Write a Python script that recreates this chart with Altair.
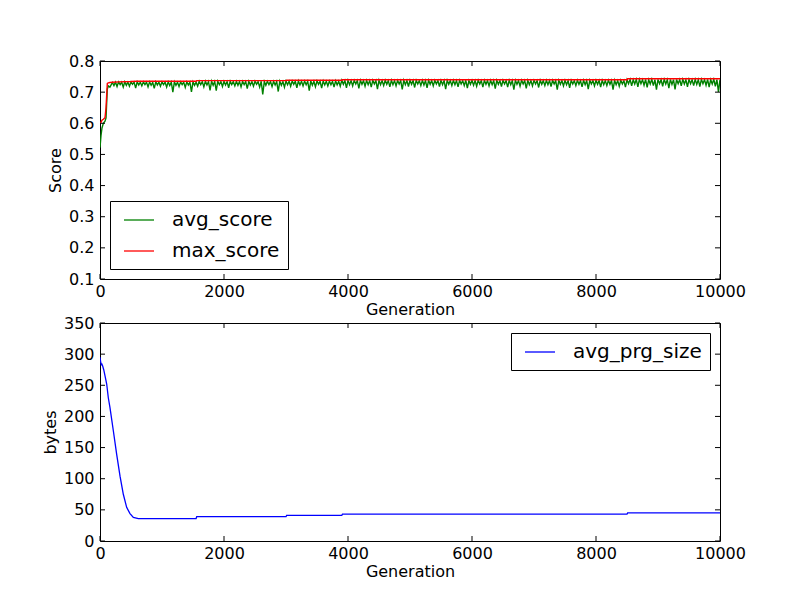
import altair as alt
import pandas as pd

# ---------------- data ----------------
early_gen = [0, 16, 32, 54, 81, 97, 118, 134, 160]
early_avg = [0.522, 0.560, 0.585, 0.600, 0.607, 0.617, 0.710, 0.720, 0.716]

# avg_score sampled every 25 generations from 200 to 10000 (one row = 500 generations)
avg_score = [
    0.731, 0.721, 0.732, 0.718, 0.733, 0.724, 0.732, 0.716, 0.733, 0.722, 0.732, 0.719, 0.733, 0.725, 0.732, 0.713, 0.733, 0.723, 0.732, 0.720,
    0.733, 0.724, 0.732, 0.717, 0.733, 0.722, 0.731, 0.712, 0.733, 0.723, 0.732, 0.719, 0.733, 0.724, 0.732, 0.716, 0.733, 0.721, 0.732, 0.700,
    0.733, 0.722, 0.732, 0.718, 0.733, 0.724, 0.732, 0.715, 0.733, 0.723, 0.732, 0.701, 0.733, 0.722, 0.732, 0.719, 0.735, 0.724, 0.734, 0.717,
    0.735, 0.723, 0.734, 0.706, 0.735, 0.722, 0.734, 0.705, 0.735, 0.724, 0.734, 0.718, 0.735, 0.723, 0.734, 0.714, 0.735, 0.724, 0.734, 0.720,
    0.735, 0.722, 0.734, 0.717, 0.735, 0.724, 0.734, 0.711, 0.735, 0.723, 0.734, 0.719, 0.735, 0.725, 0.734, 0.716, 0.735, 0.693, 0.734, 0.722,
    0.735, 0.724, 0.734, 0.718, 0.735, 0.723, 0.734, 0.702, 0.735, 0.722, 0.734, 0.716, 0.736, 0.724, 0.735, 0.719, 0.736, 0.725, 0.735, 0.714,
    0.736, 0.723, 0.735, 0.720, 0.736, 0.724, 0.735, 0.705, 0.736, 0.722, 0.735, 0.717, 0.736, 0.725, 0.735, 0.713, 0.736, 0.723, 0.735, 0.720,
    0.736, 0.724, 0.735, 0.716, 0.736, 0.723, 0.735, 0.719, 0.738, 0.725, 0.737, 0.714, 0.738, 0.724, 0.737, 0.720, 0.738, 0.726, 0.737, 0.712,
    0.738, 0.725, 0.737, 0.719, 0.738, 0.724, 0.737, 0.716, 0.738, 0.726, 0.737, 0.710, 0.738, 0.724, 0.737, 0.721, 0.738, 0.725, 0.737, 0.717,
    0.738, 0.724, 0.737, 0.720, 0.738, 0.726, 0.737, 0.709, 0.738, 0.724, 0.737, 0.718, 0.738, 0.725, 0.737, 0.715, 0.738, 0.726, 0.737, 0.721,
    0.738, 0.723, 0.737, 0.714, 0.738, 0.725, 0.737, 0.720, 0.738, 0.726, 0.737, 0.718, 0.738, 0.724, 0.737, 0.710, 0.738, 0.725, 0.737, 0.721,
    0.738, 0.724, 0.737, 0.717, 0.738, 0.726, 0.737, 0.721, 0.738, 0.713, 0.737, 0.725, 0.738, 0.722, 0.737, 0.719, 0.738, 0.726, 0.737, 0.716,
    0.738, 0.725, 0.737, 0.720, 0.738, 0.724, 0.737, 0.711, 0.738, 0.725, 0.737, 0.718, 0.738, 0.726, 0.737, 0.716, 0.738, 0.724, 0.737, 0.708,
    0.738, 0.725, 0.737, 0.719, 0.738, 0.726, 0.737, 0.712, 0.738, 0.724, 0.737, 0.720, 0.738, 0.726, 0.737, 0.715, 0.738, 0.725, 0.737, 0.721,
    0.738, 0.724, 0.737, 0.718, 0.738, 0.726, 0.737, 0.708, 0.738, 0.725, 0.737, 0.720, 0.738, 0.724, 0.737, 0.714, 0.738, 0.726, 0.737, 0.721,
    0.738, 0.725, 0.737, 0.717, 0.738, 0.724, 0.737, 0.710, 0.738, 0.726, 0.737, 0.720, 0.738, 0.725, 0.737, 0.716, 0.738, 0.724, 0.737, 0.721,
    0.738, 0.725, 0.737, 0.708, 0.738, 0.724, 0.737, 0.719, 0.738, 0.726, 0.737, 0.716, 0.740, 0.727, 0.741, 0.720, 0.740, 0.726, 0.741, 0.717,
    0.741, 0.727, 0.740, 0.722, 0.741, 0.715, 0.740, 0.726, 0.741, 0.721, 0.740, 0.708, 0.741, 0.727, 0.740, 0.719, 0.741, 0.726, 0.740, 0.713,
    0.741, 0.725, 0.740, 0.709, 0.741, 0.727, 0.740, 0.720, 0.741, 0.726, 0.740, 0.717, 0.741, 0.727, 0.740, 0.721, 0.741, 0.725, 0.740, 0.718,
    0.741, 0.727, 0.740, 0.722, 0.741, 0.716, 0.740, 0.726, 0.741, 0.719, 0.740, 0.701, 0.740,
]
avg_gen = early_gen + list(range(200, 10001, 25))
avg_all = early_avg + avg_score
assert len(avg_gen) == len(avg_all)

max_gen = [0, 16, 32, 54, 81, 97, 118, 134, 160, 200, 300, 500, 600,
           1550, 1560, 3000, 3010, 3900, 3910, 8500, 8510, 10000]
max_score = [0.600, 0.603, 0.610, 0.613, 0.618, 0.650, 0.728, 0.730, 0.731,
             0.732, 0.733, 0.734, 0.735, 0.735, 0.737, 0.737, 0.738, 0.738,
             0.740, 0.740, 0.743, 0.743]

size_gen = [0, 10, 20, 30, 43, 60, 81, 108, 134, 161, 215, 269, 323, 376,
            430, 484, 538, 618, 700, 1550, 1560, 3000, 3010, 3900, 3910,
            8500, 8510, 10000]
avg_prg_size = [295, 288, 283, 284, 281, 275, 265, 252, 230, 214, 177, 139,
                104, 75, 54, 44, 38, 36, 36, 36, 39, 39, 41, 41, 43, 43, 45, 45]

x_ticks = [0, 2000, 4000, 6000, 8000, 10000]
score_ticks = [0.1, 0.2, 0.3, 0.4, 0.5, 0.6, 0.7, 0.8]
bytes_ticks = [0, 50, 100, 150, 200, 250, 300, 350]

# ---------------- tables ----------------
df_score = pd.concat([
    pd.DataFrame({"gen": avg_gen, "score": avg_all, "series": "avg_score", "o": 0}),
    pd.DataFrame({"gen": max_gen, "score": max_score, "series": "max_score", "o": 1}),
], ignore_index=True)
df_size = pd.DataFrame({"gen": size_gen, "bytes": avg_prg_size, "series": "avg_prg_size"})
df_xt = pd.DataFrame({"gen": x_ticks})
df_st = pd.DataFrame({"score": score_ticks})
df_bt = pd.DataFrame({"bytes": bytes_ticks})

W, H = 620, 218
TL = 5

xscale = alt.Scale(domain=[0, 10000], nice=False, padding=0)
xaxis = alt.Axis(values=x_ticks, format="d", title="Generation", labelOverlap=False, labelFlush=False)


def tick_layers(yfield, yscale, yaxis, yt_df):
    X = alt.X("gen:Q", scale=xscale, axis=xaxis)
    Y = alt.Y(f"{yfield}:Q", scale=yscale, axis=yaxis)
    top = alt.Chart(df_xt).mark_rule(color="black").encode(x=X, y=alt.value(0), y2=alt.value(TL))
    bot = alt.Chart(df_xt).mark_rule(color="black").encode(x=X, y=alt.value(H - TL), y2=alt.value(H))
    left = alt.Chart(yt_df).mark_rule(color="black").encode(y=Y, x=alt.value(0), x2=alt.value(TL))
    right = alt.Chart(yt_df).mark_rule(color="black").encode(y=Y, x=alt.value(W - TL), x2=alt.value(W))
    return [top, bot, left, right]


sscale = alt.Scale(domain=[0.1, 0.8], nice=False, zero=False, padding=0)
saxis = alt.Axis(values=score_ticks, format=".1f", title="Score", labelOverlap=False, labelFlush=False)
score_lines = alt.Chart(df_score).mark_line(strokeWidth=1.4, clip=True).encode(
    x=alt.X("gen:Q", scale=xscale, axis=xaxis),
    y=alt.Y("score:Q", scale=sscale, axis=saxis),
    color=alt.Color("series:N",
                    scale=alt.Scale(domain=["avg_score", "max_score"], range=["#008000", "#ff0000"]),
                    legend=alt.Legend(title=None, orient="bottom-left")),
    order="o:Q",
)
top_chart = alt.layer(score_lines, *tick_layers("score", sscale, saxis, df_st)).properties(width=W, height=H)

bscale = alt.Scale(domain=[0, 350], nice=False, padding=0)
baxis = alt.Axis(values=bytes_ticks, format="d", title="bytes", labelOverlap=False, labelFlush=False)
size_line = alt.Chart(df_size).mark_line(strokeWidth=1.3, clip=True).encode(
    x=alt.X("gen:Q", scale=xscale, axis=xaxis),
    y=alt.Y("bytes:Q", scale=bscale, axis=baxis),
    color=alt.Color("series:N",
                    scale=alt.Scale(domain=["avg_prg_size"], range=["#0000ff"]),
                    legend=alt.Legend(title=None, orient="top-right")),
)
bottom_chart = alt.layer(size_line, *tick_layers("bytes", bscale, baxis, df_bt)).properties(width=W, height=H)

chart = alt.vconcat(top_chart, bottom_chart, spacing=44, bounds="flush").resolve_scale(
    color="independent", x="independent", y="independent"
).resolve_legend(color="independent").properties(
    padding={"left": 33, "top": 44, "right": 5, "bottom": 5},
    background="white",
).configure_view(
    stroke="black", strokeWidth=1
).configure_axis(
    labelFont="DejaVu Sans", labelFontSize=16, labelColor="black",
    titleFont="DejaVu Sans", titleFontSize=16, titleFontWeight="normal", titleColor="black",
    grid=False, ticks=False, domain=False, labelOverlap=False, labelFlush=False,
).configure_axisX(
    labelPadding=4, titlePadding=2
).configure_axisY(
    labelPadding=6, titlePadding=5
).configure_legend(
    labelFont="DejaVu Sans", labelFontSize=20, labelColor="black",
    strokeColor="black", fillColor="white", padding=8,
    symbolType="M-1.5,0L1.5,0", symbolSize=400, symbolStrokeWidth=1.3,
    labelOffset=22, rowPadding=10, offset=10, symbolOffset=10, cornerRadius=0,
)

chart.save("out.html", embed_options={"renderer": "svg", "actions": False})
